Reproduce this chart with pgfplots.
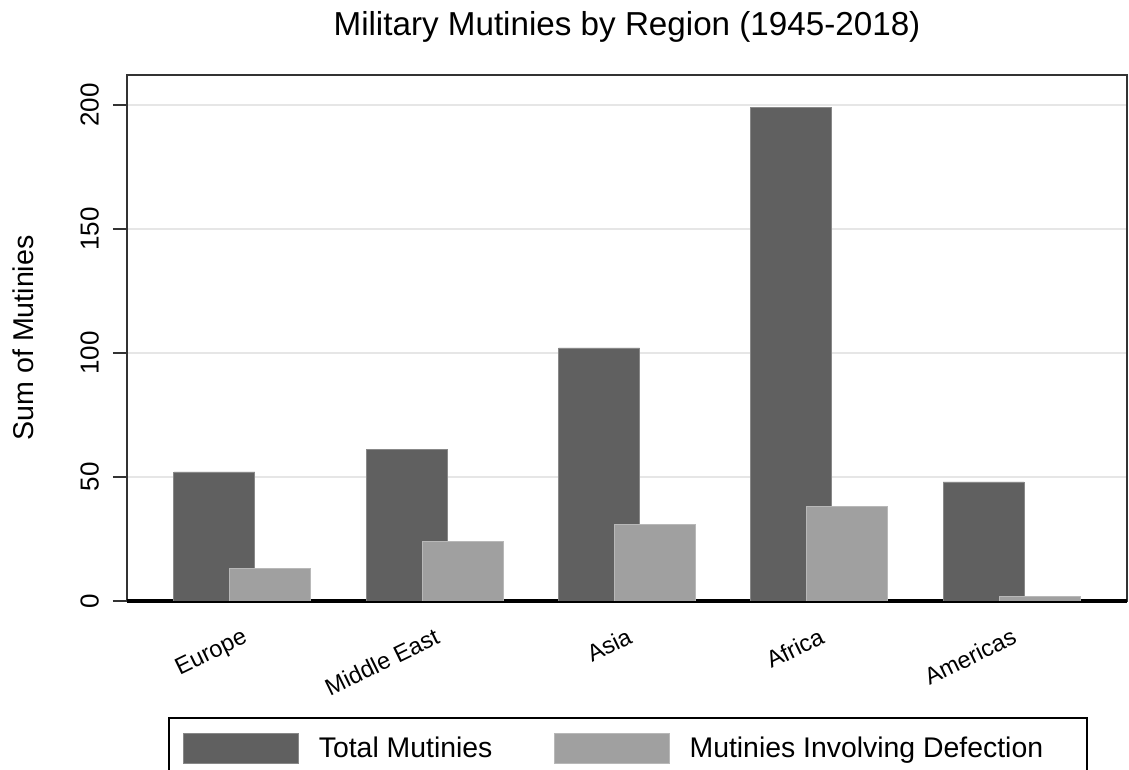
\documentclass[border=0pt]{standalone}
\usepackage{fontspec}
\setmainfont{Liberation Sans}
\usepackage{pgfplots}
\pgfplotsset{compat=1.18}
\definecolor{darkbar}{HTML}{606060}
\definecolor{lightbar}{HTML}{A0A0A0}
\definecolor{gridc}{HTML}{E6E6E6}
\pgfplotsset{
  sqleg/.style={legend image code/.code={\fill[##1] (0pt,-7.5pt) rectangle (57.5pt,7.5pt);}},
}
\begin{document}
\begin{tikzpicture}
\begin{axis}[
  scale only axis, width=500pt, height=263pt,
  at={(0,0)}, anchor=south west,
  xmin=-0.6, xmax=4.6, ymin=0, ymax=212,
  /pgf/number format/assume math mode=true,
  xtick={0,1,2,3,4},
  xticklabels={Europe, Middle East, Asia, Africa, Americas},
  x tick label style={rotate=26, anchor=north east, font=\fontsize{11.8}{14}\selectfont, inner sep=0pt, yshift=-5pt, xshift=-3pt},
  xtick style={draw=none},
  ytick={0,50,100,150,200},
  ytick pos=left, tick align=outside, major tick length=7pt,
  yticklabel shift=3.5pt,
  y tick label style={rotate=90, anchor=south, font=\fontsize{13}{15}\selectfont},
  ytick style={color=black!80, line width=1pt},
  ymajorgrids, grid style={color=gridc, line width=0.9pt},
  axis line style={color=black!80, line width=1pt},
  extra y ticks={0}, extra y tick labels={},
  extra y tick style={grid=major, major grid style={black, line width=1.6pt}},
  ylabel={Sum of Mutinies},
  ylabel style={at={(axis description cs:-0.104,0.5)}, anchor=center, font=\fontsize{14.3}{16}\selectfont},
  title={Military Mutinies by Region (1945-2018)},
  title style={at={(axis description cs:0.5,1.095)}, anchor=center, yshift=-7pt, font=\fontsize{16.6}{19}\selectfont},
  legend columns=2,
  legend cell align=left,
  legend style={at={(axis description cs:0.041,-0.2205)}, anchor=north west,
    draw=black, line width=1pt, inner xsep=7pt, inner ysep=7.5pt,
    /tikz/column sep=8pt,
    font=\fontsize{14.2}{16}\selectfont},
]
\addplot[ybar, bar width=40.5pt, bar shift=-14pt, fill=darkbar, draw=darkbar!75!white, line width=0.4pt, sqleg]
  coordinates {(0,52) (1,61) (2,102) (3,199) (4,48)};
\addlegendentry{\makebox[107.5pt][l]{Total Mutinies}}
\addplot[ybar, bar width=40.5pt, bar shift=14pt, fill=lightbar, draw=lightbar!75!white, line width=0.4pt, sqleg]
  coordinates {(0,13) (1,24) (2,31) (3,38) (4,2)};
\addlegendentry{\makebox[189.5pt][l]{Mutinies Involving Defection}}
\end{axis}
\pgfresetboundingbox
\path[use as bounding box] (-63.5pt,-84.5pt) rectangle (501pt,300.5pt);
\end{tikzpicture}
\end{document}
